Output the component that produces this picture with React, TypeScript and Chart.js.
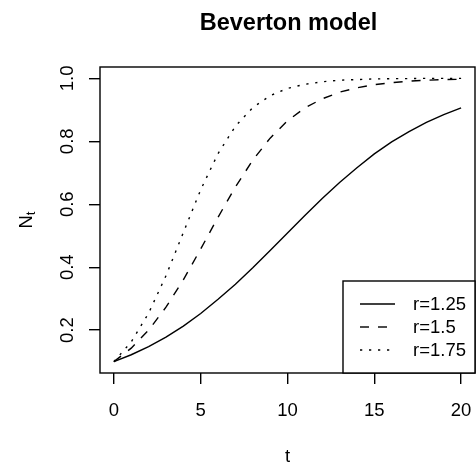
import React, { useEffect, useRef } from "react";
import { Chart, registerables } from "chart.js";

Chart.register(...registerables);

const tValues = [0, 1, 2, 3, 4, 5, 6, 7, 8, 9, 10, 11, 12, 13, 14, 15, 16, 17, 18, 19, 20];
const series125 = [0.1, 0.122, 0.148, 0.178, 0.213, 0.253, 0.298, 0.346, 0.398, 0.453, 0.509, 0.564, 0.618, 0.669, 0.716, 0.760, 0.798, 0.831, 0.860, 0.885, 0.906];
const series150 = [0.1, 0.143, 0.2, 0.273, 0.36, 0.458, 0.559, 0.655, 0.740, 0.810, 0.865, 0.906, 0.935, 0.956, 0.970, 0.980, 0.986, 0.991, 0.994, 0.996, 0.997];
const series175 = [0.1, 0.163, 0.254, 0.373, 0.510, 0.646, 0.761, 0.848, 0.907, 0.945, 0.968, 0.981, 0.989, 0.994, 0.996, 0.998, 0.999, 0.999, 1.0, 1.0, 1.0];
const seriesLabels = ["r=1.25", "r=1.5", "r=1.75"];
const xTicks = [0, 5, 10, 15, 20];
const yTicks = [0.2, 0.4, 0.6, 0.8, 1.0];
const yTickLabels = ["0.2", "0.4", "0.6", "0.8", "1.0"];
const titleText = "Beverton model";

const FONT = '"Liberation Sans", Arial, Helvetica, sans-serif';
const dashes = [[], [9, 9], [2.25, 6.75]];
const LW = 1.4;

export default function App() {
  const ref = useRef<HTMLCanvasElement | null>(null);
  useEffect(() => {
    const canvas = ref.current;
    if (!canvas) return;
    const allSeries = [series125, series150, series175];
    const textPlugin = {
      id: "rtext",
      afterDraw(chart: any) {
        const { ctx, chartArea } = chart;
        const xs = chart.scales.x;
        const ys = chart.scales.y;
        ctx.save();
        ctx.fillStyle = "#000";
        ctx.strokeStyle = "#000";
        ctx.lineWidth = LW;
        ctx.setLineDash([]);
        // box
        ctx.strokeRect(chartArea.left, chartArea.top, chartArea.right - chartArea.left, chartArea.bottom - chartArea.top);
        // title
        ctx.font = `bold 23.5px ${FONT}`;
        ctx.textAlign = "center";
        ctx.textBaseline = "alphabetic";
        const cx = (chartArea.left + chartArea.right) / 2;
        ctx.fillText(titleText, cx + 1, 29.5);
        // x tick labels
        ctx.font = `18.5px ${FONT}`;
        xTicks.forEach((v) => {
          ctx.fillText(String(v), xs.getPixelForValue(v), 416);
        });
        // x title
        ctx.fillText("t", cx, 461.5);
        // y tick labels
        yTicks.forEach((v, i) => {
          ctx.save();
          ctx.translate(72.7, ys.getPixelForValue(v));
          ctx.rotate(-Math.PI / 2);
          ctx.fillText(yTickLabels[i], 0, 0);
          ctx.restore();
        });
        // y title N_t
        const cy = (chartArea.top + chartArea.bottom) / 2;
        ctx.save();
        ctx.translate(32, cy);
        ctx.rotate(-Math.PI / 2);
        ctx.textAlign = "left";
        ctx.font = `18.5px ${FONT}`;
        const w1 = ctx.measureText("N").width;
        ctx.font = `13px ${FONT}`;
        const w2 = ctx.measureText("t").width;
        const start = -(w1 + w2) / 2;
        ctx.font = `18.5px ${FONT}`;
        ctx.fillText("N", start, 0);
        ctx.font = `13px ${FONT}`;
        ctx.fillText("t", start + w1, 3);
        ctx.restore();
        // legend
        const lx = 343, ly = 281, lr = chartArea.right, lb = chartArea.bottom;
        ctx.fillStyle = "#fff";
        ctx.fillRect(lx, ly, lr - lx, lb - ly);
        ctx.strokeRect(lx, ly, lr - lx, lb - ly);
        ctx.fillStyle = "#000";
        ctx.font = `18.5px ${FONT}`;
        ctx.textAlign = "left";
        ctx.textBaseline = "middle";
        seriesLabels.forEach((lab, i) => {
          const y = 304 + i * 23;
          ctx.setLineDash(dashes[i]);
          ctx.beginPath();
          ctx.moveTo(360, y);
          ctx.lineTo(395, y);
          ctx.stroke();
          ctx.setLineDash([]);
          ctx.fillText(lab, 413, y + 1);
        });
        ctx.restore();
      },
    };
    const chart = new Chart(canvas, {
      type: "line",
      data: {
        datasets: allSeries.map((s, i) => ({
          label: seriesLabels[i],
          data: tValues.map((t, j) => ({ x: t, y: s[j] })),
          borderColor: "#000",
          borderWidth: LW,
          borderDash: dashes[i],
          pointRadius: 0,
          fill: false,
          tension: 0,
        })),
      },
      options: {
        responsive: false,
        animation: false,
        layout: { padding: { left: 0, right: 1, top: 67, bottom: 0 } },
        plugins: { legend: { display: false }, title: { display: false }, tooltip: { enabled: false } },
        scales: {
          x: {
            type: "linear",
            min: -0.8,
            max: 20.8,
            afterBuildTicks: (s: any) => { s.ticks = xTicks.map((v) => ({ value: v })); },
            afterFit: (s: any) => { s.height = 92; },
            ticks: { display: false },
            grid: { display: true, drawOnChartArea: false, drawTicks: true, tickLength: 11, color: "#000", lineWidth: LW },
            border: { display: false },
          },
          y: {
            type: "linear",
            min: 0.064,
            max: 1.036,
            afterBuildTicks: (s: any) => { s.ticks = yTicks.map((v) => ({ value: v })); },
            afterFit: (s: any) => { s.width = 100; },
            ticks: { display: false },
            grid: { display: true, drawOnChartArea: false, drawTicks: true, tickLength: 11, color: "#000", lineWidth: LW },
            border: { display: false },
          },
        },
      },
      plugins: [textPlugin],
    });
    return () => chart.destroy();
  }, []);
  return (
    <div style={{ position: "fixed", left: 0, top: 0, width: 476, height: 465, background: "#fff" }}>
      <canvas ref={ref} width={476} height={465} style={{ display: "block" }} />
    </div>
  );
}
